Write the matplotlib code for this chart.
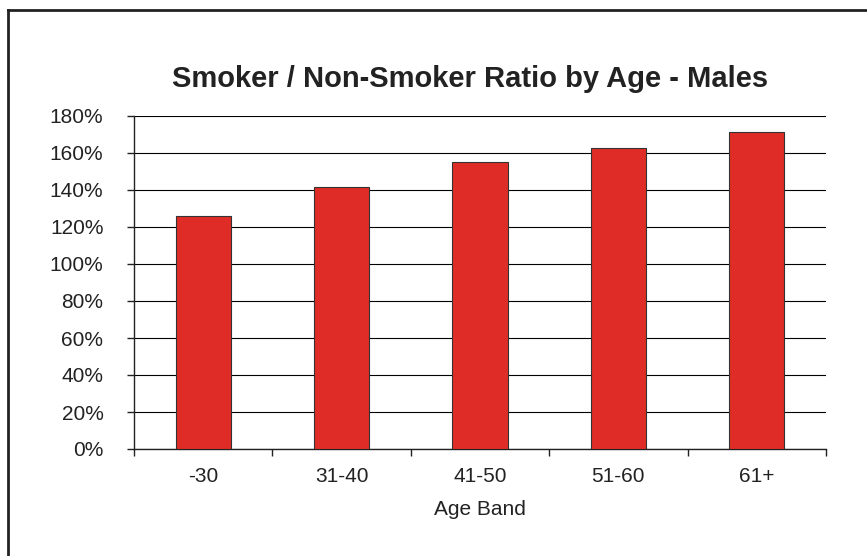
import matplotlib.pyplot as plt
import numpy as np
from matplotlib.lines import Line2D
from matplotlib.ticker import FixedLocator, PercentFormatter

age_bands = ['-30', '31-40', '41-50', '51-60', '61+']
ratios = [126.2, 141.4, 154.9, 162.7, 171.6]
y_ticks = [0, 20, 40, 60, 80, 100, 120, 140, 160, 180]

W, H = 867, 556


def plot_ratio():
    plt.rcParams['font.family'] = ['Liberation Sans', 'DejaVu Sans']
    fig = plt.figure(figsize=(W / 100, H / 100), dpi=100)
    ax = fig.add_axes([134 / W, 1 - 449 / H, (826 - 134) / W, (449 - 116) / H])

    x = np.arange(len(age_bands))
    ax.bar(x, ratios, width=0.4, color='#e02c26', edgecolor='#333333',
           linewidth=0.8, zorder=3)

    ax.set_xlim(-0.5, len(age_bands) - 0.5)
    ax.set_ylim(0, 180)
    ax.set_yticks(y_ticks)
    ax.yaxis.set_major_formatter(PercentFormatter(decimals=0))
    ax.grid(axis='y', color='black', linewidth=0.8, zorder=0)

    ax.set_xticks(x)
    ax.set_xticklabels(age_bands)
    ax.xaxis.set_minor_locator(FixedLocator(np.arange(-0.5, len(age_bands), 1)))
    ax.tick_params(axis='x', which='major', length=0, pad=13, labelsize=15,
                   colors='#222222')
    ax.tick_params(axis='x', which='minor', length=5, width=1, color='#222222')
    ax.tick_params(axis='y', length=5, width=1, pad=17, labelsize=15,
                   colors='#222222')

    for side in ['top', 'right']:
        ax.spines[side].set_visible(False)
    for side in ['left', 'bottom']:
        ax.spines[side].set_color('#222222')
        ax.spines[side].set_linewidth(1)

    ax.set_xlabel('Age Band', fontsize=15, color='#222222', labelpad=10)

    fig.text(470.5 / W, 1 - 86.7 / H, 'Smoker / Non-Smoker Ratio by Age - Males',
             ha='center', va='baseline', fontsize=21, fontweight='bold',
             color='#222222')

    # outer chart border (only top and left visible in the crop)
    fig.add_artist(Line2D([8 / W, 1], [1 - 10 / H, 1 - 10 / H], color='#222222',
                          linewidth=2, transform=fig.transFigure))
    fig.add_artist(Line2D([8 / W, 8 / W], [0, 1 - 10 / H], color='#222222',
                          linewidth=2, transform=fig.transFigure))

    fig.savefig('out.png', dpi=100)


def main():
    plot_ratio()


if __name__ == "__main__":
    main()
